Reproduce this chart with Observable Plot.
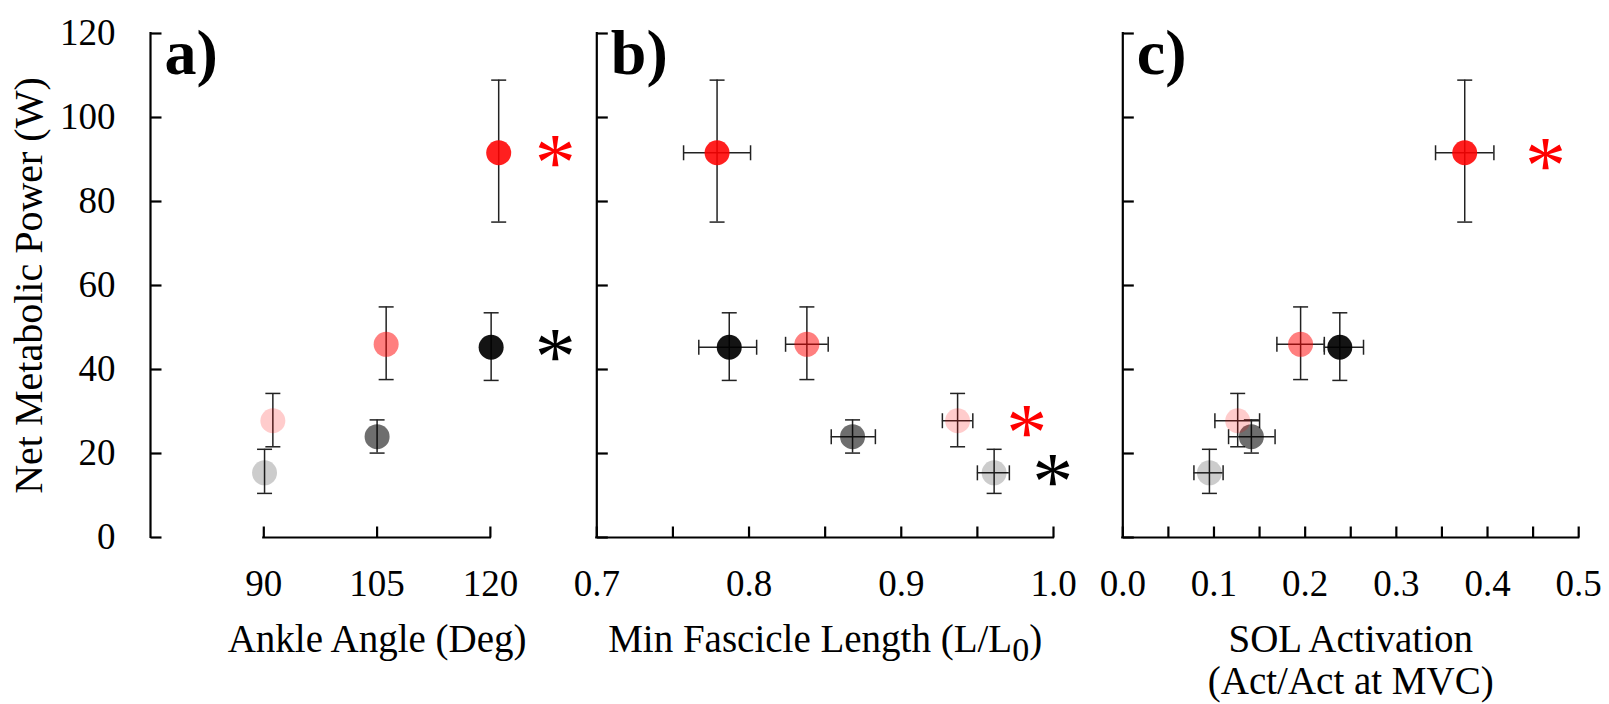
<!DOCTYPE html>
<html><head><meta charset="utf-8">
<script src="https://cdn.jsdelivr.net/npm/d3@7"></script>
<script src="https://cdn.jsdelivr.net/npm/@observablehq/plot@0.6"></script>
<style>
html,body{margin:0;padding:0;background:#fff;}
#chart{position:relative;width:1609px;height:704px;overflow:hidden;background:#fff;}
#chart > svg{position:absolute;top:0;overflow:visible;}
</style></head><body><div id="chart"></div>
<script>
// ---- data ----
const condition = ["Gray 90", "Gray 105", "Gray 120", "Red 90", "Red 105", "Red 120"];
const fillColor = ["0,0,0", "0,0,0", "0,0,0", "255,0,0", "255,0,0", "255,0,0"];
const fillAlpha = [0.2, 0.57, 0.92, 0.2, 0.5, 0.88];
const power   = [15.4, 24.0, 45.3, 27.8, 46.0, 91.6];
const powerLo = [10.5, 20.1, 37.4, 21.6, 37.6, 75.1];
const powerHi = [21.0, 28.0, 53.5, 34.3, 54.9, 108.9];
const ankleAngle = [90.1, 105.0, 120.1, 91.2, 106.2, 121.1];
const fascicle   = [0.961, 0.868, 0.787, 0.937, 0.838, 0.779];
const fascicleLo = [0.950, 0.854, 0.767, 0.927, 0.824, 0.757];
const fascicleHi = [0.971, 0.883, 0.805, 0.947, 0.852, 0.801];
const activation   = [0.095, 0.141, 0.238, 0.126, 0.195, 0.375];
const activationLo = [0.078, 0.116, 0.221, 0.101, 0.169, 0.343];
const activationHi = [0.110, 0.167, 0.264, 0.150, 0.221, 0.407];

const yTicks = [0, 20, 40, 60, 80, 100, 120];
const xTicksA = [90, 105, 120];
const xLabelsA = [90, 105, 120];
const xTicksB = [0.7, 0.75, 0.8, 0.85, 0.9, 0.95, 1.0];
const xLabelsB = [0.7, 0.8, 0.9, 1.0];
const xTicksC = [0, 0.05, 0.1, 0.15, 0.2, 0.25, 0.3, 0.35, 0.4, 0.45, 0.5];
const xLabelsC = [0, 0.1, 0.2, 0.3, 0.4, 0.5];

const panelLetters = ["a)", "b)", "c)"];
const xTitles = ["Ankle Angle (Deg)", "Min Fascicle Length (L/L0)", "SOL Activation\n(Act/Act at MVC)"];
const yTitle = "Net Metabolic Power (W)";

const starPanel = [0, 0, 1, 1, 2];
const starX = [128.6, 128.6, 0.9825, 0.9995, 0.4636];
const starY = [91.6, 45.3, 27.4, 15.6, 91.0];
const starColor = ["#ff0000", "#000000", "#ff0000", "#000000", "#ff0000"];

// ---- symbols ----
const tickRight = {draw(c) { c.moveTo(0, 0); c.lineTo(11, 0); }};
const tickUp = {draw(c) { c.moveTo(0, 0); c.lineTo(0, -11); }};
const capH = {draw(c) { c.moveTo(-7.5, 0); c.lineTo(7.5, 0); }};
const capV = {draw(c) { c.moveTo(0, -7.5); c.lineTo(0, 7.5); }};

const FONT = "Liberation Serif";

function panel(cfg) {
  const {index, left, width, marginLeft, marginRight, domain, xv, xlo, xhi,
         axisFrom, axisTo, xTicks, xLabels, fmt, titleX, showY} = cfg;
  const rows = condition.map((c, i) => ({
    c, x: xv[i], xlo: xlo ? xlo[i] : null, xhi: xhi ? xhi[i] : null,
    y: power[i], ylo: powerLo[i], yhi: powerHi[i],
    fill: `rgba(${fillColor[i]},${fillAlpha[i]})`
  }));
  const stars = starPanel.map((p, i) => ({p, x: starX[i], y: starY[i], color: starColor[i]})).filter(d => d.p === index);
  const x0 = domain[0];
  const ax = "#000", eb = "#222";
  const marks = [
    // axes
    Plot.ruleX([x0], {x: d => d, y1: () => 0, y2: () => 120, stroke: ax, strokeWidth: 2.2, strokeLinecap: "square"}),
    Plot.ruleY([0], {y: d => d, x1: () => axisFrom, x2: () => axisTo, stroke: ax, strokeWidth: 2.2, strokeLinecap: "square"}),
    Plot.dot(yTicks, {x: () => x0, y: d => d, symbol: tickRight, stroke: ax, strokeWidth: 2.2, fill: "none"}),
    Plot.dot(xTicks, {x: d => d, y: () => 0, symbol: tickUp, stroke: ax, strokeWidth: 2.2, fill: "none"}),
    Plot.text(xLabels, {x: d => d, y: () => 0, dy: 47, text: fmt, fontSize: 37, fill: "#000"}),
    Plot.text([xTitles[index]], {x: () => titleX, y: () => 0, dy: index === 2 ? 122 : 101, text: d => d, fontSize: 39, lineHeight: 1.08, fill: "#000"}),
    Plot.text([panelLetters[index]], {x: () => x0, y: () => 120, dx: 14, dy: -5, text: d => d, textAnchor: "start", lineAnchor: "top", fontWeight: "bold", fontSize: 64, fill: "#000"}),
    // error bars
    Plot.ruleX(rows, {x: "x", y1: "ylo", y2: "yhi", stroke: eb, strokeWidth: 1.5}),
    Plot.dot(rows, {x: "x", y: "ylo", symbol: capH, stroke: eb, strokeWidth: 1.5, fill: "none"}),
    Plot.dot(rows, {x: "x", y: "yhi", symbol: capH, stroke: eb, strokeWidth: 1.5, fill: "none"}),
  ];
  if (xlo) {
    marks.push(
      Plot.ruleY(rows, {y: "y", x1: "xlo", x2: "xhi", stroke: eb, strokeWidth: 1.5}),
      Plot.dot(rows, {x: "xlo", y: "y", symbol: capV, stroke: eb, strokeWidth: 1.5, fill: "none"}),
      Plot.dot(rows, {x: "xhi", y: "y", symbol: capV, stroke: eb, strokeWidth: 1.5, fill: "none"})
    );
  }
  marks.push(
    Plot.dot(rows, {x: "x", y: "y", r: 12.5, fill: "fill", stroke: null}),
    Plot.text(stars, {x: "x", y: "y", text: () => "*", fill: "color", fontSize: 82, dy: 11})
  );
  if (showY) {
    marks.push(
      Plot.text(yTicks, {x: () => x0, y: d => d, text: d => String(d), dx: -35, textAnchor: "end", fontSize: 37, fill: "#000"}),
      Plot.text([yTitle], {x: () => x0, y: () => 60, dx: -121, rotate: -90, text: d => d, fontSize: 40, fill: "#000"})
    );
  }
  const svg = Plot.plot({
    width, height: 704,
    marginLeft, marginRight, marginTop: 33, marginBottom: 167,
    x: {domain, axis: null},
    y: {domain: [0, 120], axis: null},
    color: {type: "identity"},
    style: {fontFamily: FONT, background: "transparent", overflow: "visible"},
    marks
  });
  svg.style.left = left + "px";
  // subscript for L0
  d3.select(svg).selectAll("text").filter(function() { return this.textContent === "Min Fascicle Length (L/L0)"; })
    .each(function() {
      const t = d3.select(this);
      t.text(null);
      t.append("tspan").text("Min Fascicle Length (L/L");
      t.append("tspan").attr("dy", 9).attr("font-size", 34).text("0");
      t.append("tspan").attr("dy", -9).text(")");
    });
  return svg;
}

const root = document.getElementById("chart");
root.appendChild(panel({
  index: 0, left: 0, width: 590, marginLeft: 150, marginRight: 0, domain: [75, 75 + 440 / 7.553],
  xv: ankleAngle, xlo: null, xhi: null, axisFrom: 90, axisTo: 120,
  xTicks: xTicksA, xLabels: xLabelsA, fmt: d => String(d), titleX: 105, showY: true
}));
root.appendChild(panel({
  index: 1, left: 590, width: 500, marginLeft: 6.3, marginRight: 37, domain: [0.7, 1.0],
  xv: fascicle, xlo: fascicleLo, xhi: fascicleHi, axisFrom: 0.7, axisTo: 1.0,
  xTicks: xTicksB, xLabels: xLabelsB, fmt: d => d.toFixed(1), titleX: 0.85, showY: false
}));
root.appendChild(panel({
  index: 2, left: 1090, width: 519, marginLeft: 32.3, marginRight: 30.8, domain: [0, 0.5],
  xv: activation, xlo: activationLo, xhi: activationHi, axisFrom: 0, axisTo: 0.5,
  xTicks: xTicksC, xLabels: xLabelsC, fmt: d => d.toFixed(1), titleX: 0.25, showY: false
}));
</script></body></html>
